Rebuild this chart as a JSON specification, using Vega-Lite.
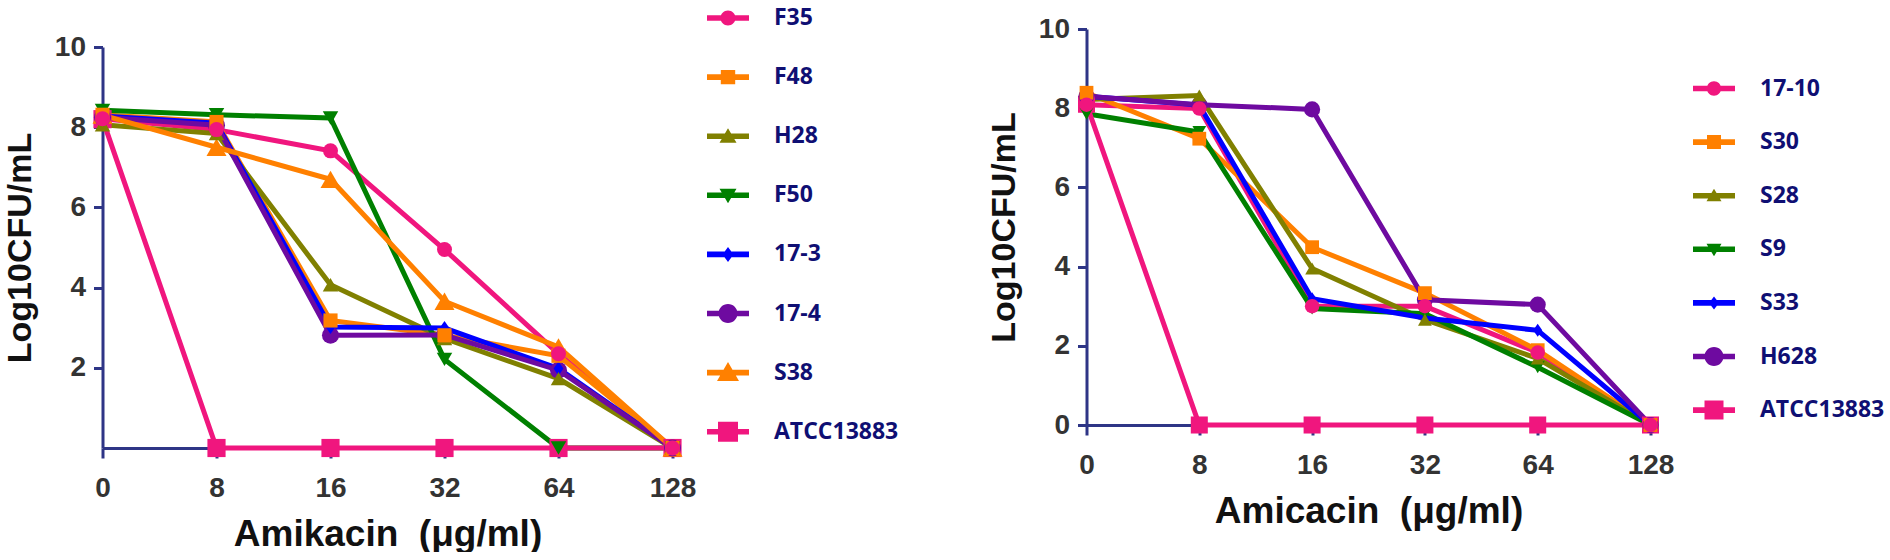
{
  "$schema": "https://vega.github.io/schema/vega-lite/v6.json",
  "description": "Amikacin time-kill style curves, two panels.",
  "background": "white",
  "padding": {"left": 2.5, "top": 6, "right": 0, "bottom": 0},
  "datasets": {
    "left": [
      {"strain": "F35", "conc": 0, "logcfu": 8.21}, {"strain": "F35", "conc": 8, "logcfu": 7.94}, {"strain": "F35", "conc": 16, "logcfu": 7.41},
      {"strain": "F35", "conc": 32, "logcfu": 4.95}, {"strain": "F35", "conc": 64, "logcfu": 2.35}, {"strain": "F35", "conc": 128, "logcfu": 0},
      {"strain": "F48", "conc": 0, "logcfu": 8.31}, {"strain": "F48", "conc": 8, "logcfu": 8.13}, {"strain": "F48", "conc": 16, "logcfu": 3.18},
      {"strain": "F48", "conc": 32, "logcfu": 2.81}, {"strain": "F48", "conc": 64, "logcfu": 2.3}, {"strain": "F48", "conc": 128, "logcfu": 0},
      {"strain": "H28", "conc": 0, "logcfu": 8.06}, {"strain": "H28", "conc": 8, "logcfu": 7.84}, {"strain": "H28", "conc": 16, "logcfu": 4.07},
      {"strain": "H28", "conc": 32, "logcfu": 2.73}, {"strain": "H28", "conc": 64, "logcfu": 1.73}, {"strain": "H28", "conc": 128, "logcfu": 0},
      {"strain": "F50", "conc": 0, "logcfu": 8.42}, {"strain": "F50", "conc": 8, "logcfu": 8.31}, {"strain": "F50", "conc": 16, "logcfu": 8.23},
      {"strain": "F50", "conc": 32, "logcfu": 2.21}, {"strain": "F50", "conc": 64, "logcfu": 0}, {"strain": "F50", "conc": 128, "logcfu": 0},
      {"strain": "17-3", "conc": 0, "logcfu": 8.28}, {"strain": "17-3", "conc": 8, "logcfu": 8.1}, {"strain": "17-3", "conc": 16, "logcfu": 3.02},
      {"strain": "17-3", "conc": 32, "logcfu": 2.99}, {"strain": "17-3", "conc": 64, "logcfu": 1.98}, {"strain": "17-3", "conc": 128, "logcfu": 0},
      {"strain": "17-4", "conc": 0, "logcfu": 8.25}, {"strain": "17-4", "conc": 8, "logcfu": 8.05}, {"strain": "17-4", "conc": 16, "logcfu": 2.81},
      {"strain": "17-4", "conc": 32, "logcfu": 2.82}, {"strain": "17-4", "conc": 64, "logcfu": 1.94}, {"strain": "17-4", "conc": 128, "logcfu": 0},
      {"strain": "S38", "conc": 0, "logcfu": 8.3}, {"strain": "S38", "conc": 8, "logcfu": 7.5}, {"strain": "S38", "conc": 16, "logcfu": 6.7},
      {"strain": "S38", "conc": 32, "logcfu": 3.66}, {"strain": "S38", "conc": 64, "logcfu": 2.52}, {"strain": "S38", "conc": 128, "logcfu": 0},
      {"strain": "ATCC13883", "conc": 0, "logcfu": 8.2}, {"strain": "ATCC13883", "conc": 8, "logcfu": 0}, {"strain": "ATCC13883", "conc": 16, "logcfu": 0},
      {"strain": "ATCC13883", "conc": 32, "logcfu": 0}, {"strain": "ATCC13883", "conc": 64, "logcfu": 0}, {"strain": "ATCC13883", "conc": 128, "logcfu": 0}
    ],
    "right": [
      {"strain": "17-10", "conc": 0, "logcfu": 8.09}, {"strain": "17-10", "conc": 8, "logcfu": 7.99}, {"strain": "17-10", "conc": 16, "logcfu": 3.0},
      {"strain": "17-10", "conc": 32, "logcfu": 3.0}, {"strain": "17-10", "conc": 64, "logcfu": 1.83}, {"strain": "17-10", "conc": 128, "logcfu": 0},
      {"strain": "S30", "conc": 0, "logcfu": 8.39}, {"strain": "S30", "conc": 8, "logcfu": 7.23}, {"strain": "S30", "conc": 16, "logcfu": 4.49},
      {"strain": "S30", "conc": 32, "logcfu": 3.33}, {"strain": "S30", "conc": 64, "logcfu": 1.89}, {"strain": "S30", "conc": 128, "logcfu": 0},
      {"strain": "S28", "conc": 0, "logcfu": 8.22}, {"strain": "S28", "conc": 8, "logcfu": 8.32}, {"strain": "S28", "conc": 16, "logcfu": 3.95},
      {"strain": "S28", "conc": 32, "logcfu": 2.66}, {"strain": "S28", "conc": 64, "logcfu": 1.68}, {"strain": "S28", "conc": 128, "logcfu": 0},
      {"strain": "S9", "conc": 0, "logcfu": 7.86}, {"strain": "S9", "conc": 8, "logcfu": 7.4}, {"strain": "S9", "conc": 16, "logcfu": 2.94},
      {"strain": "S9", "conc": 32, "logcfu": 2.81}, {"strain": "S9", "conc": 64, "logcfu": 1.46}, {"strain": "S9", "conc": 128, "logcfu": 0},
      {"strain": "S33", "conc": 0, "logcfu": 8.3}, {"strain": "S33", "conc": 8, "logcfu": 8.08}, {"strain": "S33", "conc": 16, "logcfu": 3.19},
      {"strain": "S33", "conc": 32, "logcfu": 2.7}, {"strain": "S33", "conc": 64, "logcfu": 2.39}, {"strain": "S33", "conc": 128, "logcfu": 0},
      {"strain": "H628", "conc": 0, "logcfu": 8.3}, {"strain": "H628", "conc": 8, "logcfu": 8.09}, {"strain": "H628", "conc": 16, "logcfu": 7.97},
      {"strain": "H628", "conc": 32, "logcfu": 3.16}, {"strain": "H628", "conc": 64, "logcfu": 3.04}, {"strain": "H628", "conc": 128, "logcfu": 0},
      {"strain": "ATCC13883", "conc": 0, "logcfu": 8.1}, {"strain": "ATCC13883", "conc": 8, "logcfu": 0}, {"strain": "ATCC13883", "conc": 16, "logcfu": 0},
      {"strain": "ATCC13883", "conc": 32, "logcfu": 0}, {"strain": "ATCC13883", "conc": 64, "logcfu": 0}, {"strain": "ATCC13883", "conc": 128, "logcfu": 0}
    ]
  },
  "hconcat": [
    {
      "width": 570,
      "height": 419,
      "data": {"name": "left"},
      "encoding": {
        "x": {
          "field": "conc", "type": "ordinal",
          "scale": {"type": "point", "domain": [0, 8, 16, 32, 64, 128], "padding": 0},
          "axis": {"title": "Amikacin\u00a0 (μg/ml)"}
        },
        "y": {
          "field": "logcfu", "type": "quantitative",
          "scale": {"domain": [0, 10], "nice": false, "range": [419, 18]},
          "axis": {"title": "Log10CFU/mL", "values": [2, 4, 6, 8, 10]}
        },
        "color": {
          "field": "strain", "type": "nominal",
          "scale": {
            "domain": ["F35", "F48", "H28", "F50", "17-3", "17-4", "S38", "ATCC13883"],
            "range": ["#F0167E", "#FF8000", "#808000", "#008000", "#0000FF", "#6E0AA0", "#FF8000", "#F0167E"]
          },
          "legend": null
        }
      },
      "layer": [
        {
          "transform": [{"filter": "datum.logcfu < 0"}],
          "mark": {"type": "point", "filled": true, "opacity": 1},
          "encoding": {
            "color": {
              "field": "strain", "type": "nominal",
              "legend": {"legendX": 614, "legendY": -22.5, "rowPadding": 35.1}
            },
            "shape": {
              "field": "strain", "type": "nominal",
              "scale": {
                "domain": ["F35", "F48", "H28", "F50", "17-3", "17-4", "S38", "ATCC13883"],
                "range": [
                  "M-2.1,-0.28L2.1,-0.28L2.1,0.28L-2.1,0.28Z M-0.75,0A0.75,0.75,0,1,1,0.75,0A0.75,0.75,0,1,1,-0.75,0Z",
                  "M-2.1,-0.28L2.1,-0.28L2.1,0.28L-2.1,0.28Z M-0.72,-0.72L0.72,-0.72L0.72,0.72L-0.72,0.72Z",
                  "M-2.1,-0.28L2.1,-0.28L2.1,0.28L-2.1,0.28Z M0,-0.8L0.85,0.65L-0.85,0.65Z",
                  "M-2.1,-0.28L2.1,-0.28L2.1,0.28L-2.1,0.28Z M-0.85,-0.65L0.85,-0.65L0,0.8Z",
                  "M-2.1,-0.28L2.1,-0.28L2.1,0.28L-2.1,0.28Z M0,-0.75L0.55,0L0,0.75L-0.55,0Z",
                  "M-2.1,-0.28L2.1,-0.28L2.1,0.28L-2.1,0.28Z M-0.95,0A0.95,0.95,0,1,1,0.95,0A0.95,0.95,0,1,1,-0.95,0Z",
                  "M-2.1,-0.28L2.1,-0.28L2.1,0.28L-2.1,0.28Z M0,-1.05L1.1,0.85L-1.1,0.85Z",
                  "M-2.1,-0.28L2.1,-0.28L2.1,0.28L-2.1,0.28Z M-1,-1L1,-1L1,1L-1,1Z"
                ]
              },
              "legend": {"legendX": 614, "legendY": -22.5, "rowPadding": 35.1}
            }
          }
        },
        {"mark": {"type": "line", "strokeWidth": 5}},
        {"transform": [{"filter": {"field": "strain", "equal": "ATCC13883"}}], "mark": {"type": "point", "filled": true, "opacity": 1, "shape": "square", "size": 330}},
        {"transform": [{"filter": {"field": "strain", "equal": "S38"}}], "mark": {"type": "point", "filled": true, "opacity": 1, "shape": "triangle-up", "size": 400}},
        {"transform": [{"filter": {"field": "strain", "equal": "17-4"}}], "mark": {"type": "point", "filled": true, "opacity": 1, "shape": "circle", "size": 290}},
        {"transform": [{"filter": {"field": "strain", "equal": "17-3"}}], "mark": {"type": "point", "filled": true, "opacity": 1, "shape": "M0,-1L0.7,0L0,1L-0.7,0Z", "size": 200}},
        {"transform": [{"filter": {"field": "strain", "equal": "F50"}}], "mark": {"type": "point", "filled": true, "opacity": 1, "shape": "triangle-down", "size": 240}},
        {"transform": [{"filter": {"field": "strain", "equal": "H28"}}], "mark": {"type": "point", "filled": true, "opacity": 1, "shape": "triangle-up", "size": 240}},
        {"transform": [{"filter": {"field": "strain", "equal": "F48"}}], "mark": {"type": "point", "filled": true, "opacity": 1, "shape": "square", "size": 200}},
        {"transform": [{"filter": {"field": "strain", "equal": "F35"}}], "mark": {"type": "point", "filled": true, "opacity": 1, "shape": "circle", "size": 225}}
      ]
    },
    {
      "width": 564,
      "height": 396,
      "data": {"name": "right"},
      "encoding": {
        "x": {
          "field": "conc", "type": "ordinal",
          "scale": {"type": "point", "domain": [0, 8, 16, 32, 64, 128], "padding": 0},
          "axis": {"title": "Amicacin\u00a0 (μg/ml)"}
        },
        "y": {
          "field": "logcfu", "type": "quantitative",
          "scale": {"domain": [0, 10], "nice": false},
          "axis": {"title": "Log10CFU/mL", "values": [0, 2, 4, 6, 8, 10]}
        },
        "color": {
          "field": "strain", "type": "nominal",
          "scale": {
            "domain": ["17-10", "S30", "S28", "S9", "S33", "H628", "ATCC13883"],
            "range": ["#F0167E", "#FF8000", "#808000", "#008000", "#0000FF", "#6E0AA0", "#F0167E"]
          },
          "legend": null
        }
      },
      "layer": [
        {
          "transform": [{"filter": "datum.logcfu < 0"}],
          "mark": {"type": "point", "filled": true, "opacity": 1},
          "encoding": {
            "color": {
              "field": "strain", "type": "nominal",
              "legend": {"legendX": 616, "legendY": 48, "rowPadding": 29.6}
            },
            "shape": {
              "field": "strain", "type": "nominal",
              "scale": {
                "domain": ["17-10", "S30", "S28", "S9", "S33", "H628", "ATCC13883"],
                "range": [
                  "M-2.1,-0.28L2.1,-0.28L2.1,0.28L-2.1,0.28Z M-0.72,0A0.72,0.72,0,1,1,0.72,0A0.72,0.72,0,1,1,-0.72,0Z",
                  "M-2.1,-0.28L2.1,-0.28L2.1,0.28L-2.1,0.28Z M-0.7,-0.7L0.7,-0.7L0.7,0.7L-0.7,0.7Z",
                  "M-2.1,-0.28L2.1,-0.28L2.1,0.28L-2.1,0.28Z M0,-0.7L0.75,0.55L-0.75,0.55Z",
                  "M-2.1,-0.28L2.1,-0.28L2.1,0.28L-2.1,0.28Z M-0.75,-0.55L0.75,-0.55L0,0.7Z",
                  "M-2.1,-0.28L2.1,-0.28L2.1,0.28L-2.1,0.28Z M0,-0.65L0.5,0L0,0.65L-0.5,0Z",
                  "M-2.1,-0.28L2.1,-0.28L2.1,0.28L-2.1,0.28Z M-0.95,0A0.95,0.95,0,1,1,0.95,0A0.95,0.95,0,1,1,-0.95,0Z",
                  "M-2.1,-0.28L2.1,-0.28L2.1,0.28L-2.1,0.28Z M-0.95,-0.95L0.95,-0.95L0.95,0.95L-0.95,0.95Z"
                ]
              },
              "legend": {"legendX": 616, "legendY": 48, "rowPadding": 29.6}
            }
          }
        },
        {"mark": {"type": "line", "strokeWidth": 5}},
        {"transform": [{"filter": {"field": "strain", "equal": "ATCC13883"}}], "mark": {"type": "point", "filled": true, "opacity": 1, "shape": "square", "size": 290}},
        {"transform": [{"filter": {"field": "strain", "equal": "H628"}}], "mark": {"type": "point", "filled": true, "opacity": 1, "shape": "circle", "size": 260}},
        {"transform": [{"filter": {"field": "strain", "equal": "S33"}}], "mark": {"type": "point", "filled": true, "opacity": 1, "shape": "M0,-1L0.7,0L0,1L-0.7,0Z", "size": 170}},
        {"transform": [{"filter": {"field": "strain", "equal": "S9"}}], "mark": {"type": "point", "filled": true, "opacity": 1, "shape": "triangle-down", "size": 190}},
        {"transform": [{"filter": {"field": "strain", "equal": "S28"}}], "mark": {"type": "point", "filled": true, "opacity": 1, "shape": "triangle-up", "size": 190}},
        {"transform": [{"filter": {"field": "strain", "equal": "S30"}}], "mark": {"type": "point", "filled": true, "opacity": 1, "shape": "square", "size": 190}},
        {"transform": [{"filter": {"field": "strain", "equal": "17-10"}}], "mark": {"type": "point", "filled": true, "opacity": 1, "shape": "circle", "size": 210}}
      ]
    }
  ],
  "resolve": {
    "scale": {"color": "independent", "shape": "independent"},
    "legend": {"color": "independent", "shape": "independent"}
  },
  "config": {
    "view": {"stroke": null},
    "concat": {"spacing": 88},
    "axis": {
      "grid": false,
      "domainColor": "#2E3586",
      "domainWidth": 3,
      "tickColor": "#2E3586",
      "tickWidth": 3,
      "tickSize": 9,
      "labelFont": "Liberation Sans",
      "labelFontSize": 28,
      "labelFontWeight": "bold",
      "labelColor": "#333333",
      "labelPadding": 8,
      "titleFont": "Liberation Sans",
      "titleFontWeight": "bold",
      "titleColor": "#111111"
    },
    "axisX": {"labelAngle": 0, "tickSize": 10, "labelPadding": 16, "titleFontSize": 37, "titlePadding": 14},
    "axisY": {"titleFontSize": 34, "titlePadding": 17},
    "legend": {
      "orient": "none",
      "title": null,
      "symbolSize": 400,
      "symbolStrokeWidth": 0,
      "symbolOpacity": 1,
      "labelFont": "Open Sans",
      "labelFontSize": 23,
      "labelFontWeight": "bold",
      "labelColor": "#0F0F73",
      "labelOffset": 34.5,
      "padding": 0
    }
  }
}
